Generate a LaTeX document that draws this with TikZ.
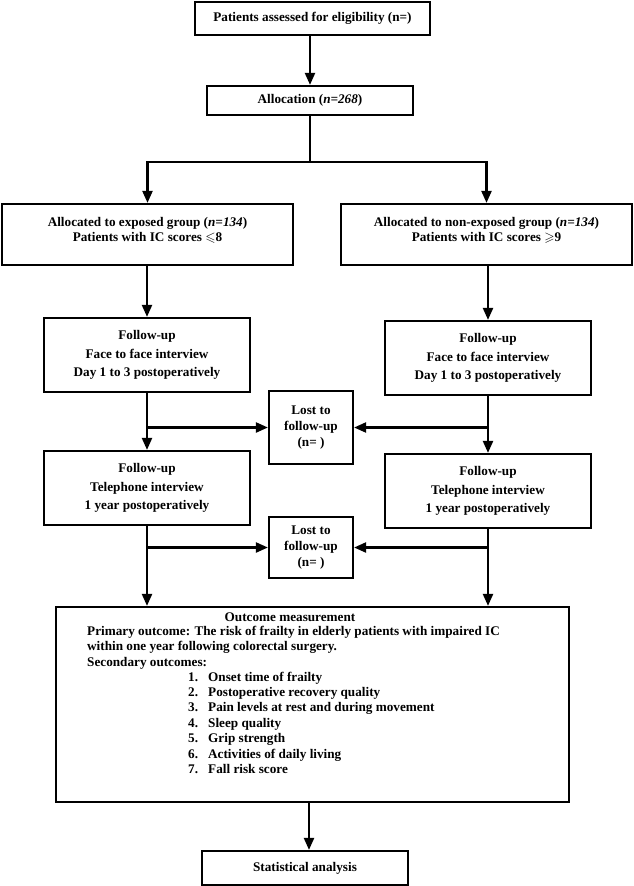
\documentclass[tikz,border=0pt]{standalone}
\usepackage{fontspec}
\setmainfont{Liberation Serif}
\usepackage{amssymb}
\usetikzlibrary{arrows.meta}
\begin{document}
\begin{tikzpicture}[x=1pt,y=-1pt,
  frame/.style={draw, line width=2.2pt, inner sep=0pt},
  box/.style={frame, align=center, font=\bfseries\fontsize{13.2}{15.5}\selectfont},
  fubox/.style={frame, align=center, minimum width=206pt, minimum height=74pt, font=\bfseries\fontsize{13.2}{18.4}\selectfont},
  lostbox/.style={frame, align=center, minimum width=84pt, font=\bfseries\fontsize{13.2}{15.6}\selectfont},
  txt/.style={inner sep=0pt, align=center, font=\bfseries\fontsize{13.2}{15.3}\selectfont},
  otxt/.style={inner sep=0pt, anchor=mid west, font=\bfseries\fontsize{13.2}{15.5}\selectfont},
  arr/.style={line width=2.2pt, -{Triangle[length=12pt,width=10pt]}},
  ln/.style={line width=2.2pt}]
\useasboundingbox (0,0) rectangle (633,886);

\node[box, minimum width=235pt, minimum height=33pt] (elig) at (312.5,18.5) {Patients assessed for eligibility (n=)};
\node[box, minimum width=206pt, minimum height=29pt] (alloc) at (310,100.5) {Allocation (\textit{n=268})};

\node[frame, minimum width=291pt, minimum height=61pt] (expo) at (147.5,234.5) {};
\node[txt] (expot) at ([yshift=4pt]expo.center) {Allocated to exposed group (\textit{n=134})\\Patients with IC scores $\leqslant$8};
\node[frame, minimum width=291pt, minimum height=61pt] (nonexp) at (486.5,234.5) {};
\node[txt] (nonexpt) at ([yshift=4pt]nonexp.center) {Allocated to non-exposed group (\textit{n=134})\\Patients with IC scores $\geqslant$9};

\node[fubox] (fu1L) at (147,355) {Follow-up\\Face to face interview\\Day 1 to 3 postoperatively};
\node[fubox] (fu1R) at (488,358) {Follow-up\\Face to face interview\\Day 1 to 3 postoperatively};
\node[lostbox, minimum height=73pt] (lost1) at (311,427.5) {Lost to\\follow-up\\(n=~)};

\node[fubox] (fu2L) at (147,488) {Follow-up\\Telephone interview\\1 year postoperatively};
\node[fubox] (fu2R) at (488,491) {Follow-up\\Telephone interview\\1 year postoperatively};
\node[lostbox, minimum height=61pt] (lost2) at (311,547.5) {Lost to\\follow-up\\(n=~)};

\node[frame, minimum width=513pt, minimum height=195pt] (outc) at (312.5,704.5) {};
\node[txt] (otitle) at (290,617) {Outcome measurement};
\node[otxt] (o1) at (87,633) {Primary outcome: The risk of frailty in elderly patients with impaired IC};
\node[otxt] (o2) at (87,648) {within one year following colorectal surgery.};
\node[otxt] (o3) at (87,664) {Secondary outcomes:};
\foreach \n/\t/\yy in {1/Onset time of frailty/679, 2/Postoperative recovery quality/694, 3/Pain levels at rest and during movement/709, 4/Sleep quality/725, 5/Grip strength/740, 6/Activities of daily living/756, 7/Fall risk score/771}{
  \node[otxt] (n\n) at (188,\yy) {\n.};
  \node[otxt] (i\n) at (208,\yy) {\t};
}

\node[box, minimum width=206pt, minimum height=34pt] (stat) at (305,868) {Statistical analysis};

% connectors
\draw[arr] (elig.south -| alloc) -- (alloc.north);
\coordinate (split) at (310,162);
\draw[ln] (alloc.south) -- (split);
\draw[ln, line cap=rect] (split -| expo) -- (split -| nonexp);
\draw[arr] (split -| expo) -- (expo.north);
\draw[arr] (split -| nonexp) -- (nonexp.north);
\draw[arr] (expo.south -| fu1L) -- (fu1L.north);
\draw[arr] (nonexp.south -| fu1R) -- (fu1R.north);

\draw[arr] (fu1L.south) -- (fu2L.north);
\draw[arr] (fu1R.south) -- (fu2R.north);
\draw[arr] (lost1.west -| fu1L) -- (lost1.west);
\draw[arr] (lost1.east -| fu1R) -- (lost1.east);

\draw[arr] (fu2L.south) -- (fu2L.south |- outc.north);
\draw[arr] (fu2R.south) -- (fu2R.south |- outc.north);
\draw[arr] (lost2.west -| fu2L) -- (lost2.west);
\draw[arr] (lost2.east -| fu2R) -- (lost2.east);

\draw[arr] ([xshift=-3.5pt]outc.south) -- ([xshift=-3.5pt]outc.south |- stat.north);
\end{tikzpicture}
\end{document}
